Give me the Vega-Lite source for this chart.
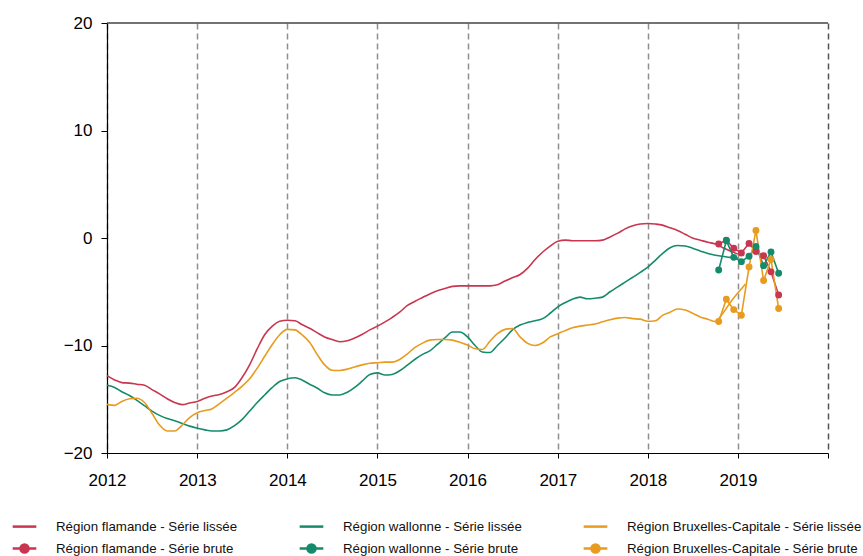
{
  "$schema": "https://vega.github.io/schema/vega-lite/v6.json",
  "width": 721,
  "height": 430,
  "autosize": "none",
  "padding": {"left": 107, "top": 23, "right": 35, "bottom": 103},
  "config": {"font": "Liberation Sans", "view": {"stroke": null}},
  "datasets": {
    "lis": [
      {"d":"2012-01-01","F":-12.8,"W":-13.7,"B":-15.48},
      {"d":"2012-02-01","F":-13.2,"W":-13.9,"B":-15.57},
      {"d":"2012-03-01","F":-13.45,"W":-14.3,"B":-15.2},
      {"d":"2012-04-01","F":-13.5,"W":-14.65,"B":-14.95},
      {"d":"2012-05-01","F":-13.6,"W":-15.1,"B":-14.9},
      {"d":"2012-06-01","F":-13.7,"W":-15.6,"B":-15.3},
      {"d":"2012-07-01","F":-14.1,"W":-16.1,"B":-16.3},
      {"d":"2012-08-01","F":-14.5,"W":-16.5,"B":-17.4},
      {"d":"2012-09-01","F":-14.95,"W":-16.8,"B":-17.95},
      {"d":"2012-10-01","F":-15.3,"W":-17.0,"B":-17.95},
      {"d":"2012-11-01","F":-15.5,"W":-17.25,"B":-17.4},
      {"d":"2012-12-01","F":-15.35,"W":-17.5,"B":-16.7},
      {"d":"2013-01-01","F":-15.2,"W":-17.7,"B":-16.25},
      {"d":"2013-02-01","F":-14.9,"W":-17.85,"B":-16.05},
      {"d":"2013-03-01","F":-14.7,"W":-17.95,"B":-15.9},
      {"d":"2013-04-01","F":-14.55,"W":-17.95,"B":-15.4},
      {"d":"2013-05-01","F":-14.3,"W":-17.85,"B":-14.9},
      {"d":"2013-06-01","F":-13.9,"W":-17.45,"B":-14.35},
      {"d":"2013-07-01","F":-13.0,"W":-16.9,"B":-13.8},
      {"d":"2013-08-01","F":-11.8,"W":-16.1,"B":-13.1},
      {"d":"2013-09-01","F":-10.3,"W":-15.3,"B":-12.1},
      {"d":"2013-10-01","F":-9.0,"W":-14.6,"B":-11.0},
      {"d":"2013-11-01","F":-8.2,"W":-13.9,"B":-9.9},
      {"d":"2013-12-01","F":-7.75,"W":-13.35,"B":-9.0},
      {"d":"2014-01-01","F":-7.65,"W":-13.1,"B":-8.5},
      {"d":"2014-02-01","F":-7.7,"W":-13.0,"B":-8.55},
      {"d":"2014-03-01","F":-8.05,"W":-13.2,"B":-9.0},
      {"d":"2014-04-01","F":-8.4,"W":-13.6,"B":-9.7},
      {"d":"2014-05-01","F":-8.8,"W":-13.95,"B":-10.8},
      {"d":"2014-06-01","F":-9.2,"W":-14.4,"B":-11.8},
      {"d":"2014-07-01","F":-9.45,"W":-14.6,"B":-12.3},
      {"d":"2014-08-01","F":-9.65,"W":-14.6,"B":-12.32},
      {"d":"2014-09-01","F":-9.55,"W":-14.35,"B":-12.2},
      {"d":"2014-10-01","F":-9.3,"W":-13.9,"B":-12.0},
      {"d":"2014-11-01","F":-8.95,"W":-13.3,"B":-11.8},
      {"d":"2014-12-01","F":-8.55,"W":-12.7,"B":-11.65},
      {"d":"2015-01-01","F":-8.2,"W":-12.55,"B":-11.6},
      {"d":"2015-02-01","F":-7.8,"W":-12.75,"B":-11.55},
      {"d":"2015-03-01","F":-7.4,"W":-12.7,"B":-11.55},
      {"d":"2015-04-01","F":-6.9,"W":-12.35,"B":-11.3},
      {"d":"2015-05-01","F":-6.3,"W":-11.85,"B":-10.8},
      {"d":"2015-06-01","F":-5.9,"W":-11.3,"B":-10.2},
      {"d":"2015-07-01","F":-5.55,"W":-10.85,"B":-9.8},
      {"d":"2015-08-01","F":-5.2,"W":-10.5,"B":-9.5},
      {"d":"2015-09-01","F":-4.9,"W":-9.9,"B":-9.44},
      {"d":"2015-10-01","F":-4.7,"W":-9.3,"B":-9.44},
      {"d":"2015-11-01","F":-4.5,"W":-8.75,"B":-9.5},
      {"d":"2015-12-01","F":-4.45,"W":-8.75,"B":-9.69},
      {"d":"2016-01-01","F":-4.45,"W":-9.2,"B":-9.95},
      {"d":"2016-02-01","F":-4.45,"W":-10.0,"B":-10.3},
      {"d":"2016-03-01","F":-4.45,"W":-10.6,"B":-10.37},
      {"d":"2016-04-01","F":-4.45,"W":-10.65,"B":-9.6},
      {"d":"2016-05-01","F":-4.35,"W":-10.0,"B":-8.9},
      {"d":"2016-06-01","F":-4.0,"W":-9.3,"B":-8.5},
      {"d":"2016-07-01","F":-3.7,"W":-8.55,"B":-8.42},
      {"d":"2016-08-01","F":-3.4,"W":-8.1,"B":-9.2},
      {"d":"2016-09-01","F":-2.8,"W":-7.85,"B":-9.8},
      {"d":"2016-10-01","F":-2.0,"W":-7.7,"B":-10.0},
      {"d":"2016-11-01","F":-1.3,"W":-7.5,"B":-9.75},
      {"d":"2016-12-01","F":-0.75,"W":-7.0,"B":-9.2},
      {"d":"2017-01-01","F":-0.3,"W":-6.4,"B":-8.9},
      {"d":"2017-02-01","F":-0.2,"W":-6.0,"B":-8.6},
      {"d":"2017-03-01","F":-0.25,"W":-5.7,"B":-8.35},
      {"d":"2017-04-01","F":-0.25,"W":-5.5,"B":-8.2},
      {"d":"2017-05-01","F":-0.25,"W":-5.65,"B":-8.1},
      {"d":"2017-06-01","F":-0.25,"W":-5.6,"B":-8.0},
      {"d":"2017-07-01","F":-0.2,"W":-5.5,"B":-7.8},
      {"d":"2017-08-01","F":0.1,"W":-5.0,"B":-7.6},
      {"d":"2017-09-01","F":0.45,"W":-4.55,"B":-7.45},
      {"d":"2017-10-01","F":0.85,"W":-4.1,"B":-7.4},
      {"d":"2017-11-01","F":1.15,"W":-3.65,"B":-7.5},
      {"d":"2017-12-01","F":1.3,"W":-3.2,"B":-7.55},
      {"d":"2018-01-01","F":1.35,"W":-2.7,"B":-7.75},
      {"d":"2018-02-01","F":1.3,"W":-2.05,"B":-7.7},
      {"d":"2018-03-01","F":1.2,"W":-1.45,"B":-7.2},
      {"d":"2018-04-01","F":0.95,"W":-0.9,"B":-6.9},
      {"d":"2018-05-01","F":0.7,"W":-0.7,"B":-6.6},
      {"d":"2018-06-01","F":0.35,"W":-0.75,"B":-6.7},
      {"d":"2018-07-01","F":0.0,"W":-0.95,"B":-7.0},
      {"d":"2018-08-01","F":-0.2,"W":-1.2,"B":-7.35},
      {"d":"2018-09-01","F":-0.4,"W":-1.45,"B":-7.55},
      {"d":"2018-10-01","F":-0.55,"W":-1.6,"B":-7.77},
      {"d":"2018-11-01","F":-0.9,"W":-1.7,"B":-7.0},
      {"d":"2018-12-01","F":-1.2,"W":-1.8,"B":-6.0},
      {"d":"2019-01-01","F":-1.5,"W":-1.86,"B":-5.1},
      {"d":"2019-02-01","B":-4.27}
    ],
    "brut": [
      {"d":"2018-10-15","f":-0.55,"w":-2.97,"b":-7.77},
      {"d":"2018-11-15","f":-0.2,"w":-0.25,"b":-5.7},
      {"d":"2018-12-15","f":-0.95,"w":-1.8,"b":-6.66},
      {"d":"2019-01-15","f":-1.4,"w":-2.2,"b":-7.18},
      {"d":"2019-02-15","f":-0.5,"w":-1.7,"b":-2.7},
      {"d":"2019-03-15","f":-1.25,"w":-0.78,"b":0.7},
      {"d":"2019-04-15","f":-1.65,"w":-2.57,"b":-3.96},
      {"d":"2019-05-15","f":-3.15,"w":-1.3,"b":-2.0},
      {"d":"2019-06-15","f":-5.3,"w":-3.28,"b":-6.56}
    ],
    "names": [
      {"k":"F","serie":"Région flamande - Série lissée"},
      {"k":"W","serie":"Région wallonne - Série lissée"},
      {"k":"B","serie":"Région Bruxelles-Capitale - Série lissée"},
      {"k":"f","serie":"Région flamande - Série brute"},
      {"k":"w","serie":"Région wallonne - Série brute"},
      {"k":"b","serie":"Région Bruxelles-Capitale - Série brute"}
    ]
  },
  "encoding": {
    "x": {
      "field": "d", "type": "temporal",
      "scale": {"type": "utc", "domain": ["2012-01-01", "2020-01-01"]},
      "axis": {
        "title": null,
        "values": ["2012-01-01","2013-01-01","2014-01-01","2015-01-01","2016-01-01","2017-01-01","2018-01-01","2019-01-01","2020-01-01"],
        "format": "%Y",
        "labelExpr": "utcyear(datum.value) == 2020 ? '' : utcyear(datum.value)",
        "grid": true,
        "gridDash": [6, 4],
        "gridWidth": 1.5,
        "gridColor": {"condition": {"test": "utcyear(datum.value) == 2020", "value": "#555555"}, "value": "#8f8f8f"},
        "domainColor": "#000000",
        "domainWidth": 1.2,
        "tickColor": "#000000",
        "tickSize": 5,
        "labelFontSize": 17,
        "labelColor": "#000000",
        "labelPadding": 14,
        "labelFlush": false,
        "labelOverlap": false
      }
    },
    "y": {
      "field": "v", "type": "quantitative",
      "scale": {"domain": [-20, 20], "nice": false},
      "axis": {
        "title": null,
        "values": [-20, -10, 0, 10, 20],
        "grid": false,
        "domainColor": "#000000",
        "domainWidth": 1.2,
        "tickColor": "#000000",
        "tickSize": 6,
        "labelFontSize": 17,
        "labelColor": "#000000",
        "labelPadding": 9
      }
    },
    "color": {
      "field": "serie", "type": "nominal",
      "scale": {
        "domain": ["Région flamande - Série lissée","Région wallonne - Série lissée","Région Bruxelles-Capitale - Série lissée","Région flamande - Série brute","Région wallonne - Série brute","Région Bruxelles-Capitale - Série brute"],
        "range": ["#c8364f","#158b6b","#e89b1e","#c8364f","#158b6b","#e89b1e"]
      },
      "legend": {
        "title": null,
        "orient": "none",
        "legendX": -96,
        "legendY": 490,
        "columns": 3,
        "direction": "horizontal",
        "labelFont": "Liberation Sans",
        "labelFontSize": 13.3,
        "labelColor": "#111111",
        "labelLimit": 320,
        "symbolSize": 560,
        "symbolStrokeWidth": 2.5,
        "labelOffset": 18,
        "columnPadding": 56,
        "rowPadding": 2,
        "encode": {
          "symbols": {
            "update": {
              "shape": {"signal": "indexof(datum.label, 'brute') >= 0 ? 'M-1,0L1,0M0.34,0A0.34,0.34,0,1,1,-0.34,0A0.34,0.34,0,1,1,0.34,0Z' : 'M-1,0L1,0'"},
              "fill": {"signal": "scale('color', datum.value)"},
              "stroke": {"signal": "scale('color', datum.value)"},
              "strokeWidth": {"value": 2.5},
              "opacity": {"value": 1},
              "fillOpacity": {"value": 1}
            }
          }
        }
      }
    }
  },
  "layer": [
    {
      "data": {"name": "lis"},
      "transform": [
        {"fold": ["F", "W", "B"], "as": ["k", "v"]},
        {"filter": "isValid(datum.v)"},
        {"lookup": "k", "from": {"data": {"name": "names"}, "key": "k", "fields": ["serie"]}}
      ],
      "mark": {"type": "line", "strokeWidth": 1.6, "interpolate": "monotone"}
    },
    {
      "data": {"name": "brut"},
      "transform": [
        {"fold": ["f", "w", "b"], "as": ["k", "v"]},
        {"lookup": "k", "from": {"data": {"name": "names"}, "key": "k", "fields": ["serie"]}}
      ],
      "layer": [
        {"mark": {"type": "line", "strokeWidth": 1.6}},
        {"mark": {"type": "point", "filled": true, "size": 48, "opacity": 1}}
      ]
    },
    {
      "data": {"values": [{"top": 20}]},
      "mark": {"type": "rule", "color": "#444444", "strokeWidth": 1.5},
      "encoding": {"y": {"field": "top", "type": "quantitative"}, "x": {"value": 0}, "x2": {"value": 721}, "color": {"value": "#444444"}}
    }
  ]
}
